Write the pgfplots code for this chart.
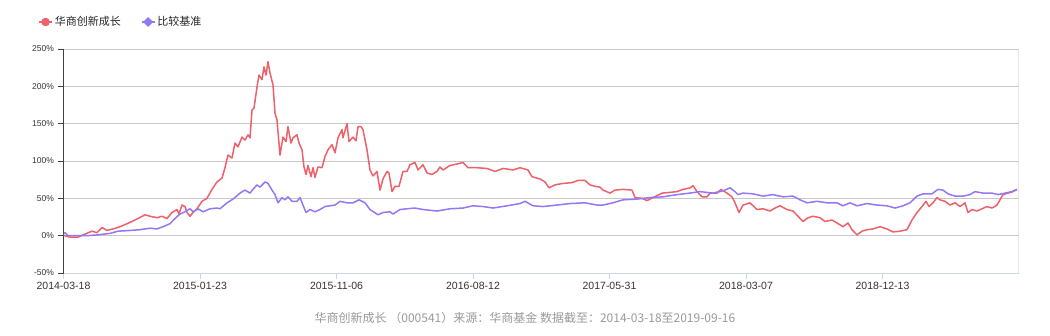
\documentclass[border=0pt]{standalone}
\usepackage{pgfplots}
\pgfplotsset{compat=1.18}
\usepackage{fontspec}
\setmainfont{Liberation Sans}
\newfontfamily\cjk{Noto Sans CJK SC}
\definecolor{redl}{RGB}{238,96,106}
\definecolor{purl}{RGB}{146,120,245}
\definecolor{xax}{RGB}{204,214,235}
\definecolor{gridc}{RGB}{200,200,200}
\begin{document}
\begin{tikzpicture}
\path[use as bounding box] (0,0) rectangle (1050pt,335pt);
\begin{axis}[
 at={(63.5pt,62pt)}, anchor=south west,
 scale only axis, width=955pt, height=224pt,
 xmin=0, xmax=955, ymin=-50, ymax=250,
 axis lines=left, axis line style={-},
 x axis line style={draw=xax, line width=1pt},
 y axis line style={draw=black!75, line width=1.2pt},
 xtick={0,136.5,273,409.5,546,682.5,819},
 xticklabels={2014-03-18,2015-01-23,2015-11-06,2016-08-12,2017-05-31,2018-03-07,2018-12-13},
 ytick={-50,0,50,100,150,200,250},
 yticklabels={-50\%,0\%,50\%,100\%,150\%,200\%,250\%},
 tick align=outside, major tick length=6pt,
 x tick style={draw=xax, line width=1pt},
 y tick style={draw=black!75, line width=1pt},
 ymajorgrids, grid style={draw=gridc, line width=0.9pt},
 xticklabel style={font=\fontsize{10.5}{12}\selectfont, text=black!80},
 yticklabel style={font=\fontsize{8.5}{10}\selectfont, text=black!80},
 legend style={at={(-0.0298,1.1205)}, anchor=west, draw=none, fill=none,
   font=\cjk\fontsize{11}{13}\selectfont, text=black!85,
   /tikz/every even column/.append style={column sep=18pt}},
 legend columns=2, legend cell align=left,
]
\draw[gridc!70, line width=0.9pt] (rel axis cs:1,0) -- (rel axis cs:1,1);
\addplot[redl, line width=1.5pt, line join=round,
  legend image code/.code={\draw[redl, line width=1.6pt] (0pt,0pt) -- (13pt,0pt); \fill[redl] (6.5pt,0pt) circle (3.5pt);}]
table {
x y
0 0
1.5 0
6.5 -2
14.5 -2
19.5 1
28.5 6
33.5 4
38.5 11
43.5 7
49.5 9
56.5 12
63.5 16
68.5 19
74.5 23
81.5 28
86.5 26
93.5 24
98.5 26
103.5 23
108.5 31
113.5 35
115.5 29
118.5 41
121.5 39
123.5 31
126.5 26
129.5 31
133.5 36
138.5 46
143.5 50
148.5 62
153.5 72
158.5 77
161.5 91
164.5 108
168.5 104
171.5 124
174.5 119
178.5 132
181.5 128
184.5 135
186.5 131
188.5 168
190.5 171
193.5 199
195.5 215
198.5 209
200.5 226
202.5 215
204.5 233
206.5 218
209.5 202
211.5 164
213.5 155
216.5 108
219.5 132
222.5 126
224.5 146
227.5 124
229.5 131
233.5 135
235.5 124
238.5 115
240.5 92
242.5 82
244.5 94
247.5 79
249.5 91
251.5 78
254.5 92
258.5 91
261.5 106
264.5 115
268.5 122
271.5 111
274.5 131
278.5 142
279.5 131
283.5 150
285.5 126
289.5 132
292.5 127
294.5 146
297.5 146
299.5 142
303.5 115
306.5 88
309.5 80
313.5 86
316.5 61
319.5 76
323.5 86
325.5 84
328.5 59
331.5 66
335.5 66
339.5 86
343.5 86
346.5 95
351.5 98
354.5 88
359.5 95
363.5 84
368.5 82
373.5 86
376.5 92
379.5 88
386.5 94
393.5 96
399.5 98
404.5 91
413.5 91
423.5 90
431.5 86
439.5 90
449.5 88
456.5 91
464.5 88
468.5 79
476.5 76
481.5 72
485.5 64
491.5 68
499.5 70
508.5 71
514.5 74
521.5 74
526.5 68
531.5 66
536.5 65
539.5 61
546.5 57
551.5 61
559.5 62
568.5 61
571.5 51
578.5 50
583.5 47
589.5 51
598.5 57
606.5 58
613.5 59
619.5 62
626.5 64
629.5 67
633.5 59
638.5 52
643.5 52
646.5 57
653.5 57
657.5 62
663.5 57
668.5 52
671.5 44
675.5 31
679.5 41
686.5 44
693.5 35
699.5 36
706.5 33
711.5 37
716.5 40
723.5 35
729.5 33
734.5 26
739.5 19
744.5 24
749.5 26
756.5 24
761.5 19
768.5 21
773.5 17
779.5 12
784.5 17
788.5 8
793.5 1
798.5 6
803.5 8
809.5 9
816.5 12
823.5 9
829.5 5
836.5 6
843.5 8
848.5 21
853.5 31
858.5 39
862.5 46
865.5 39
869.5 44
873.5 51
876.5 48
881.5 46
886.5 41
891.5 44
896.5 39
901.5 44
904.5 31
908.5 35
913.5 33
918.5 36
923.5 39
928.5 37
933.5 41
936.5 48
939.5 55
944.5 57
949.5 59
953.5 62
};
\addlegendentry{华商创新成长}
\addplot[purl, line width=1.5pt, line join=round,
  legend image code/.code={\draw[purl, line width=1.6pt] (0pt,0pt) -- (13pt,0pt); \fill[purl] (6.5pt,4pt) -- (10.5pt,0pt) -- (6.5pt,-4pt) -- (2.5pt,0pt) -- cycle;}]
table {
x y
0 2
1.5 4
4.5 0
13.5 0
23.5 0
33.5 1
46.5 3
54.5 6
66.5 7
76.5 8
86.5 10
93.5 9
99.5 12
106.5 16
111.5 23
116.5 29
121.5 32
126.5 36
129.5 32
134.5 36
139.5 32
146.5 36
153.5 37
156.5 36
163.5 44
169.5 49
176.5 57
181.5 61
186.5 57
189.5 62
193.5 68
196.5 65
201.5 72
204.5 70
208.5 61
211.5 55
214.5 44
218.5 51
221.5 48
224.5 52
228.5 46
233.5 46
236.5 51
239.5 41
242.5 31
246.5 35
251.5 32
256.5 35
261.5 39
266.5 40
271.5 41
276.5 46
283.5 44
289.5 44
295.5 48
301.5 44
306.5 35
314.5 28
319.5 31
326.5 32
329.5 29
336.5 35
343.5 36
351.5 37
359.5 35
373.5 33
386.5 36
399.5 37
409.5 40
419.5 39
429.5 37
443.5 40
456.5 43
461.5 46
469.5 40
479.5 39
493.5 41
506.5 43
521.5 44
533.5 41
539.5 41
549.5 44
559.5 48
573.5 49
586.5 51
599.5 52
613.5 55
626.5 57
636.5 59
649.5 57
659.5 60
666.5 64
671.5 59
674.5 55
679.5 57
689.5 56
699.5 53
709.5 55
719.5 52
729.5 53
736.5 48
743.5 44
753.5 46
763.5 44
773.5 44
779.5 40
786.5 44
793.5 40
803.5 43
813.5 41
823.5 40
831.5 37
839.5 40
846.5 44
853.5 53
859.5 56
868.5 56
874.5 62
879.5 61
884.5 56
891.5 53
899.5 53
906.5 55
911.5 59
919.5 57
928.5 57
934.5 55
941.5 57
948.5 59
953.5 62
};
\addlegendentry{比较基准}
\end{axis}
\node[font=\cjk\fontsize{12}{14}\selectfont, text=black!40] at (525pt,17pt) {华商创新成长 （000541）来源：华商基金 数据截至：2014-03-18至2019-09-16};
\end{tikzpicture}
\end{document}
